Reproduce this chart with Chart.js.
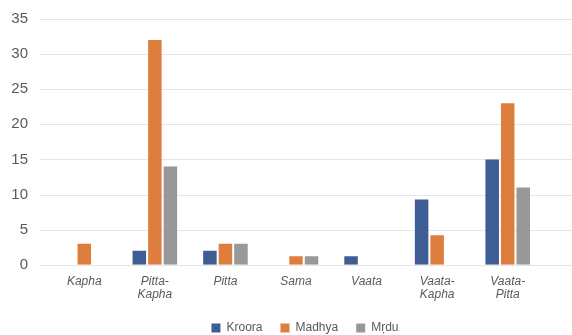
<!DOCTYPE html>
<html>
<head>
<meta charset="utf-8">
<script src="https://cdn.jsdelivr.net/npm/chart.js@4"></script>
<style>
  html, body { margin: 0; padding: 0; background: #fff; }
  #wrap { width: 572px; height: 335px; position: relative; }
</style>
</head>
<body>
<div id="wrap"><canvas id="chart"></canvas></div>
<script>
const categories = ['Kapha', ['Pitta-', 'Kapha'], 'Pitta', 'Sama', 'Vaata', ['Vaata-', 'Kapha'], ['Vaata-', 'Pitta']];
const kroora = [null, 2, 2, null, 1.2, 9.3, 15];
const madhya = [3, 32, 3, 1.2, null, 4.2, 23];
const mrdu = [null, 14, 3, 1.2, null, null, 11];
const yTicks = [0, 5, 10, 15, 20, 25, 30, 35];

// horizontal gridlines run past the category area, like the original
const wideGrid = {
  id: 'wideGrid',
  beforeDatasetsDraw(chart) {
    const { ctx, scales: { y } } = chart;
    ctx.save();
    ctx.strokeStyle = '#e6e6e6';
    ctx.lineWidth = 1;
    yTicks.forEach(v => {
      const py = Math.round(y.getPixelForValue(v)) + 0.5;
      ctx.beginPath();
      ctx.moveTo(40, py);
      ctx.lineTo(chart.width, py);
      ctx.stroke();
    });
    ctx.restore();
  }
};

// the legend in the original sits a little right of centre
const nudgeLegend = {
  id: 'nudgeLegend',
  afterLayout(chart) {
    chart.legend.left += 9;
    chart.legend.right += 9;
  }
};

new Chart(document.getElementById('chart'), {
  type: 'bar',
  data: {
    labels: categories,
    datasets: [
      { label: 'Kroora', data: kroora, backgroundColor: '#3F5D95' },
      { label: 'Madhya', data: madhya, backgroundColor: '#DE7E3E' },
      { label: 'Mṛdu', data: mrdu, backgroundColor: '#989898' }
    ]
  },
  options: {
    responsive: true,
    maintainAspectRatio: false,
    animation: false,
    layout: { padding: { top: 0, right: 29, left: 0, bottom: -9 } },
    datasets: { bar: { barPercentage: 0.87, categoryPercentage: 0.66 } },
    plugins: {
      tooltip: { enabled: false },
      legend: {
        position: 'bottom',
        fullSize: false,
        labels: {
          boxWidth: 9, boxHeight: 9, padding: 18,
          color: '#595959',
          font: { family: 'Liberation Sans', size: 12 }
        }
      }
    },
    scales: {
      x: {
        grid: { display: false },
        border: { display: false },
        ticks: {
          color: '#595959',
          maxRotation: 0,
          autoSkip: false,
          padding: 3,
          font: { family: 'Liberation Sans', size: 12, style: 'italic', lineHeight: 1.05 }
        }
      },
      y: {
        min: 0, max: 35,
        afterFit(scale) { scale.width = 49; },
        grid: { display: false, tickLength: 11 },
        border: { display: false },
        ticks: {
          stepSize: 5,
          padding: 10,
          color: '#595959',
          font: { family: 'Liberation Sans', size: 15 }
        }
      }
    }
  },
  plugins: [wideGrid, nudgeLegend]
});
</script>
</body>
</html>
